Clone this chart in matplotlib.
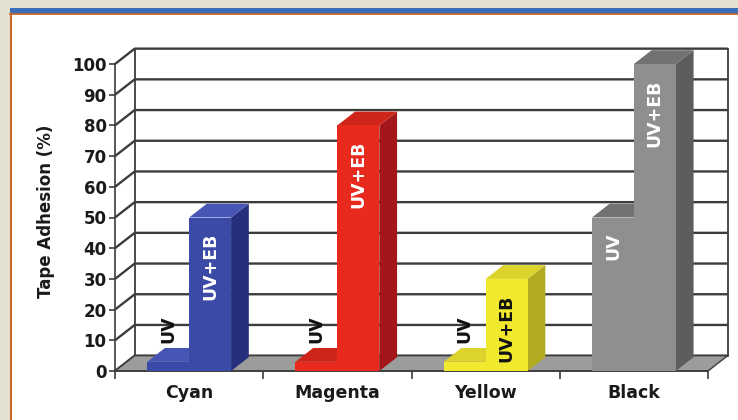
import matplotlib.pyplot as plt
from matplotlib.patches import Polygon, Rectangle
from matplotlib.lines import Line2D

# data
categories = ["Cyan", "Magenta", "Yellow", "Black"]
uv = [3, 3, 3, 50]
uv_eb = [50, 80, 30, 100]
series_names = ["UV", "UV+EB"]
y_ticks = list(range(0, 101, 10))

# face colours per category: front, top, side
face_colors = {
    "Cyan":    ("#3b49a7", "#4756b4", "#252f7e"),
    "Magenta": ("#e8291e", "#cf2419", "#a3171a"),
    "Yellow":  ("#f1e92e", "#dcd32c", "#b3ab22"),
    "Black":   ("#8f8f8f", "#727272", "#5d5d5d"),
}
label_colors = {"Cyan": "white", "Magenta": "white", "Yellow": "#111111", "Black": "white"}

DX, DY = 0.133, 5.0     # depth offset of the back wall
BAR_W = 0.283           # width of one bar in category units
DEPTH = 0.9             # bar depth as share of floor depth
GRID = "#3c3c3c"

fig = plt.figure(figsize=(7.38, 4.2), dpi=100)
fig.patch.set_facecolor("#e5e1d1")

# white panel with the blue/orange header stripe
fig.add_artist(Rectangle((10 / 738, 0), 728 / 738, 406 / 420, transform=fig.transFigure,
                         facecolor="white", edgecolor="none", zorder=-5))
fig.add_artist(Rectangle((10 / 738, 406.5 / 420), 728 / 738, 5.5 / 420, transform=fig.transFigure,
                         facecolor="#3a6fb7", edgecolor="none", zorder=-4))
fig.add_artist(Line2D([10 / 738, 1], [406 / 420, 406 / 420], transform=fig.transFigure,
                      color="#c4672c", lw=1.3, zorder=-3))
fig.add_artist(Line2D([10.5 / 738, 10.5 / 738], [0, 406 / 420], transform=fig.transFigure,
                      color="#c4672c", lw=1.5, zorder=-3))

ax = fig.add_axes([115 / 738, 49 / 420, 593 / 738, 307 / 420])
ax.set_xlim(0, len(categories))
ax.set_ylim(0, 100)
ax.patch.set_alpha(0)
n = len(categories)

# back wall, left wall, floor
ax.add_patch(Polygon([(DX, DY), (n + DX, DY), (n + DX, 100 + DY), (DX, 100 + DY)],
                     closed=True, facecolor="white", edgecolor="none", zorder=0.5, clip_on=False))
for v in y_ticks:
    ax.plot([0, DX, n + DX], [v, v + DY, v + DY], color=GRID, lw=1.7,
            solid_capstyle="butt", zorder=1, clip_on=False)
ax.plot([DX, DX], [DY, 100 + DY], color=GRID, lw=1.3, zorder=1, clip_on=False)
ax.plot([n + DX, n + DX], [DY, 100 + DY], color=GRID, lw=1.3, zorder=1, clip_on=False)
ax.add_patch(Polygon([(0, 0), (n, 0), (n + DX, DY), (DX, DY)], closed=True,
                     facecolor="#9c9c9c", edgecolor=GRID, lw=1.0, zorder=1.5, clip_on=False))


def draw_bar(x0, x1, v, colors, z):
    front, top, side = colors
    dx, dy = DX * DEPTH, DY * DEPTH
    ax.add_patch(Polygon([(x1, 0), (x1 + dx, dy), (x1 + dx, v + dy), (x1, v)], closed=True,
                         facecolor=side, edgecolor="none", zorder=z, clip_on=False))
    ax.add_patch(Polygon([(x0, v), (x1, v), (x1 + dx, v + dy), (x0 + dx, v + dy)], closed=True,
                         facecolor=top, edgecolor="none", zorder=z, clip_on=False))
    ax.add_patch(Rectangle((x0, 0), x1 - x0, v, facecolor=front, edgecolor="none",
                           zorder=z, clip_on=False))


for i, cat in enumerate(categories):
    c = i + 0.5
    for j, (name, vals) in enumerate(zip(series_names, [uv, uv_eb])):
        v = vals[i]
        x0 = c - BAR_W + j * BAR_W
        draw_bar(x0, x0 + BAR_W, v, face_colors[cat], 3 + j + i * 2)
        if v < 15:
            ax.text(x0 + BAR_W / 2, v + 6, name, rotation=90, ha="center", va="bottom",
                    fontsize=12.5, fontweight="bold", color="#111111", zorder=20)
        else:
            ax.text(x0 + BAR_W / 2, v - 5, name, rotation=90, ha="center", va="top",
                    fontsize=12.5, fontweight="bold", color=label_colors[cat], zorder=20)

# axes decoration
for s in ["top", "right"]:
    ax.spines[s].set_visible(False)
for s in ["left", "bottom"]:
    ax.spines[s].set_color(GRID)
    ax.spines[s].set_linewidth(1.2)
    ax.spines[s].set_zorder(2)

ax.set_yticks(y_ticks)
ax.set_yticklabels([str(t) for t in y_ticks], fontsize=12, fontweight="bold", color="#1a1a1a")
ax.tick_params(axis="y", length=4, width=1.2, color=GRID, pad=2)
ax.set_xticks(range(n + 1))
ax.set_xticklabels([])
ax.tick_params(axis="x", which="major", length=6, width=1.2, color=GRID)
ax.set_xticks([i + 0.5 for i in range(n)], minor=True)
ax.set_xticklabels(categories, minor=True, fontsize=12.5, fontweight="bold", color="#1a1a1a")
ax.tick_params(axis="x", which="minor", length=0, pad=9)

ax.text(-0.1164, 0.521, "Tape Adhesion (%)", transform=ax.transAxes, rotation=90,
        ha="center", va="center", fontsize=12, fontweight="bold", color="#1a1a1a")

fig.savefig("out.png", dpi=100)
